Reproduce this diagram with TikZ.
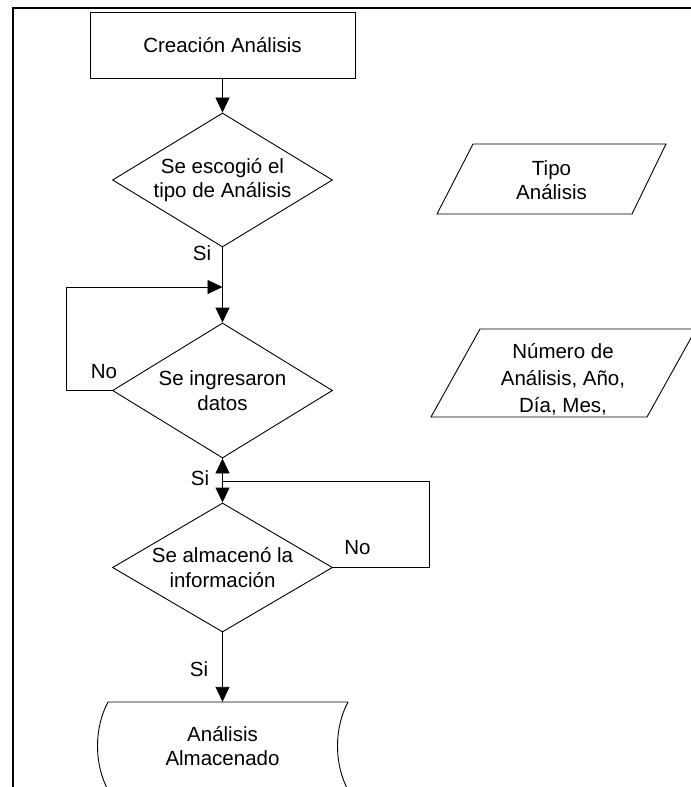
\documentclass[tikz,border=0pt]{standalone}
\usepackage{fontspec}
\setmainfont{Liberation Sans}
\usetikzlibrary{shapes.geometric,arrows.meta}

\begin{document}
\begin{tikzpicture}[x=1bp,y=-1bp,
  every node/.style={font=\fontsize{20.5bp}{24.5bp}\selectfont,align=center,inner sep=0pt},
  linea/.style={line width=0.9bp},
  flecha/.style={line width=0.9bp,-{Triangle[length=15bp,width=14bp]}},
  decision/.style={diamond,draw,line width=0.9bp,aspect=1.64,minimum width=220bp,minimum height=134bp},
  proceso/.style={rectangle,draw,line width=0.9bp,minimum width=265bp,minimum height=66bp}]
  \useasboundingbox (0,0) rectangle (691,787);
  \clip (0,0) rectangle (691,787);
  \draw[line width=2.5bp] (13,787) -- (13,8) -- (691,8);

  \node[proceso] (creacion) at (222.5,45) {Creación Análisis};
  \node[decision] (escogio) at (222.5,180) {Se escogió el\\tipo de Análisis};
  \node[decision,minimum height=135bp] (ingreso) at (222.5,390.5) {Se ingresaron\\datos};
  \node[decision,aspect=1.7,minimum height=129bp] (almacen) at (222.5,567.5) {Se almacenó la\\información};
  \node[minimum width=240bp,minimum height=88bp] (guardado) at (222.5,746) {Análisis\\Almacenado};
  \draw[linea] (348,702) -- (108,702) .. controls (94,728) and (94,764) .. (108,790)
    -- (348,790) .. controls (334,764) and (334,728) .. (348,702);

  \draw[linea] (473,144) -- (666,144) -- (632,214) -- (437,214) -- cycle;
  \node (tipo) at (551.5,180) {Tipo\\Análisis};
  \draw[linea] (480,329) -- (696,329) -- (647,417) -- (431,417) -- cycle;
  \node[font=\fontsize{20.5bp}{27bp}\selectfont] (numero) at (563,379) {Número de\\Análisis, Año,\\Día, Mes,};

  \coordinate (retorno1) at (222.5,287);
  \coordinate (retorno2) at (222.5,481);
  \draw[flecha] (creacion.south) -- (escogio.north);
  \draw[flecha] (escogio.south) -- (ingreso.north);
  \draw[flecha] (ingreso.west) -- ++(-46,0) |- (retorno1);
  \draw[flecha] (ingreso.south) -- (almacen.north);
  \draw[flecha] (almacen.east) -- ++(96,0) |- (retorno2) -- (ingreso.south);
  \draw[flecha] (almacen.south) -- (guardado.north);

  \node (si1) at (202,253) {Si};
  \node (no1) at (104,372) {No};
  \node (si2) at (200,478) {Si};
  \node (no2) at (357.5,548) {No};
  \node (si3) at (199,669) {Si};
\end{tikzpicture}
\end{document}
